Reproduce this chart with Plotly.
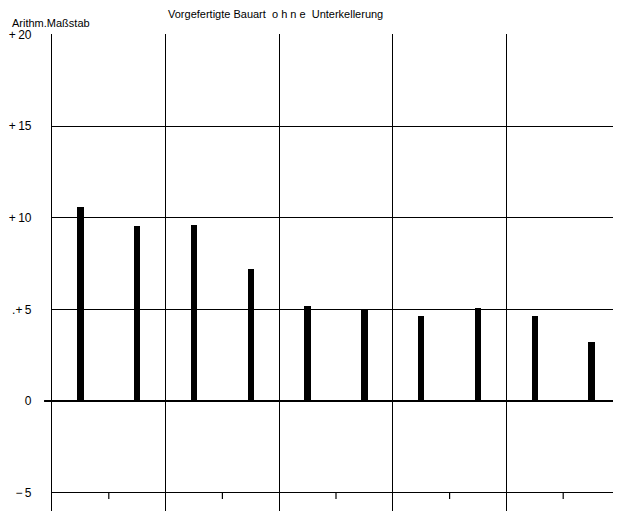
import plotly.graph_objects as go

# Data
positions = [0.5, 1.5, 2.5, 3.5, 4.5, 5.5, 6.5, 7.5, 8.5, 9.5]
values = [10.6, 9.55, 9.6, 7.2, 5.2, 5.0, 4.65, 5.05, 4.65, 3.2]
y_tick_vals = [20, 15, 10, 5, 0, -5]
y_tick_text = ["+\u200920", "+\u200915", "+\u200910", ".+\u20095", "0", "\u2212\u20095"]
minor_tick_x = [1, 3, 5, 7, 9]
title_text = "Vorgefertigte Bauart  o h n e  Unterkellerung"
axis_title = "Arithm.Maßstab"

FONT = "Liberation Sans, Arial, sans-serif"

fig = go.Figure()
fig.add_trace(go.Bar(
    x=positions, y=values, width=0.11,
    marker=dict(color="black", line=dict(width=0)),
    showlegend=False,
))

shapes = []
for xv in minor_tick_x:
    shapes.append(dict(type="line", xref="x", yref="y", x0=xv, x1=xv, y0=-5, y1=-5.35,
                       line=dict(color="black", width=1.2)))
# zero line extends slightly left of the axis
shapes.append(dict(type="line", xref="paper", yref="y", x0=-0.014, x1=0, y0=0, y1=0,
                   line=dict(color="black", width=2)))

# page body has an 8px margin, so the figure is sized to fill the remaining window
fig.update_layout(
    width=613, height=503,
    margin=dict(l=44, r=1, t=26, b=0),
    paper_bgcolor="white", plot_bgcolor="white",
    font=dict(family=FONT, size=12, color="black"),
    bargap=0,
    shapes=shapes,
    xaxis=dict(range=[0, 10], dtick=2, tick0=0, showgrid=True, gridcolor="black", gridwidth=1.2,
               showticklabels=False, zeroline=False, showline=False, ticks="",
               automargin=False),
    yaxis=dict(range=[-6.0, 20.02], tickvals=y_tick_vals, ticktext=y_tick_text,
               showgrid=True, gridcolor="black", gridwidth=1.2,
               zeroline=True, zerolinecolor="black", zerolinewidth=2.2,
               showline=True, linecolor="black", linewidth=1.2, mirror=True,
               ticks="", ticklabelstandoff=17, automargin=False,
               tickfont=dict(family=FONT, size=12, color="black")),
    annotations=[
        dict(text=title_text, xref="paper", yref="paper", x=0.394, y=1.0, yshift=20,
             xanchor="center", yanchor="middle", showarrow=False,
             font=dict(family=FONT, size=11, color="black")),
        dict(text=axis_title, xref="paper", yref="paper", x=0, y=1.0, xshift=-42, yshift=11,
             xanchor="left", yanchor="middle", showarrow=False,
             font=dict(family=FONT, size=11, color="black")),
    ],
)

fig.write_html("out.html")
